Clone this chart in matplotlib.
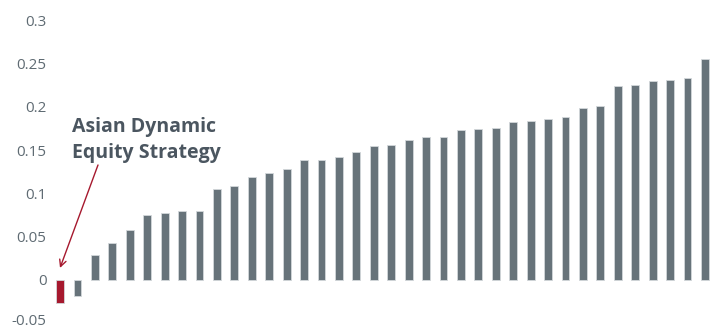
import matplotlib
matplotlib.use("Agg")
import matplotlib.pyplot as plt
from matplotlib.transforms import ScaledTranslation

# ---- data ----
values = [-0.026, -0.018, 0.0285, 0.0427, 0.0577, 0.075, 0.0774, 0.0797, 0.080,
          0.105, 0.108, 0.119, 0.1236, 0.128, 0.138, 0.139, 0.142, 0.1474,
          0.155, 0.1555, 0.1617, 0.1647, 0.165, 0.1728, 0.174, 0.1755, 0.183,
          0.1836, 0.186, 0.188, 0.1986, 0.2005, 0.2236, 0.2255, 0.2294, 0.2305,
          0.233, 0.2548]
highlight_index = 0
annotation_lines = ["Asian Dynamic", "Equity Strategy"]
ytick_values = [-0.05, 0, 0.05, 0.1, 0.15, 0.2, 0.25, 0.3]
ytick_labels = ["-0.05", "0", "0.05", "0.1", "0.15", "0.2", "0.25", "0.3"]

plt.rcParams['font.family'] = ['Open Sans', 'DejaVu Sans']

W, H, DPI = 715, 331, 100
fig = plt.figure(figsize=(W / DPI, H / DPI), dpi=DPI)
ax_left_px = 52
ax = fig.add_axes([ax_left_px / W, 0, 1 - ax_left_px / W, 1])

bar_grey = "#67737a"
bar_red = "#a6192e"
colors = [bar_red if i == highlight_index else bar_grey for i in range(len(values))]
x = list(range(len(values)))
ax.bar(x, values, width=0.45, color=colors, edgecolor="#d3d8db", linewidth=0.6)

ax.set_xlim(-0.459, 37.574)
ax.set_ylim(-0.0589, 0.3233)

ax.set_yticks(ytick_values)
ax.set_yticklabels(ytick_labels)
ax.tick_params(axis='y', length=0, pad=4, labelsize=11, labelcolor="#5f6b73")
for lab in ax.get_yticklabels():
    if lab.get_text() == "-0.05":
        lab.set_va('center')
        lab.set_transform(lab.get_transform() +
                          ScaledTranslation(0, 1.5 / 72, fig.dpi_scale_trans))
    else:
        lab.set_va('center_baseline')
ax.set_xticks([])
for s in ax.spines.values():
    s.set_visible(False)
ax.set_facecolor("white")

txt_color = "#4b5660"
ax.text(0.69, 0.1709, annotation_lines[0], fontsize=14, fontweight='bold',
        color=txt_color, ha='left', va='baseline')
ax.text(0.69, 0.1409, annotation_lines[1], fontsize=14, fontweight='bold',
        color=txt_color, ha='left', va='baseline')
ax.annotate("", xy=(0.0, 0.0139), xytext=(2.18, 0.1328),
            arrowprops=dict(arrowstyle="->", color=bar_red, lw=1.0,
                            mutation_scale=12, shrinkA=0, shrinkB=0))

fig.savefig("out.png", dpi=DPI)
